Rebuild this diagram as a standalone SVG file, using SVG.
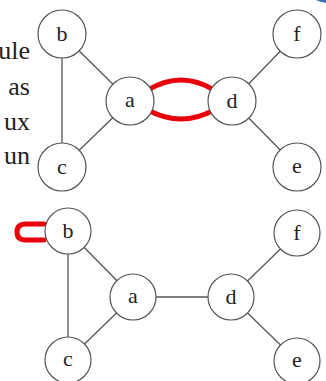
<svg xmlns="http://www.w3.org/2000/svg" width="326" height="381" viewBox="0 0 326 381">
  <style>
    .edge { stroke: #555; stroke-width: 1.3; fill: none; }
    .hl { stroke: #e8000b; stroke-width: 5; fill: none; stroke-linecap: round; }
    .node circle { fill: #fff; stroke: #555; stroke-width: 1.2; }
    .node text { font-family: "Liberation Serif", "DejaVu Serif", serif; font-size: 22px; fill: #222; text-anchor: middle; }
    .para { font-family: "Liberation Serif", "DejaVu Serif", serif; font-size: 26px; fill: #222; text-anchor: end; }
  </style>
  <rect width="326" height="381" fill="#fff"/>

  <!-- paragraph fragments on the left edge -->
  <g id="paragraph">
    <text class="para" x="30" y="59">ule</text>
    <text class="para" x="30" y="95">as</text>
    <text class="para" x="30" y="130">ux</text>
    <text class="para" x="30" y="164">un</text>
  </g>

  <!-- corner decoration -->
  <path d="M316,0 L326,0 L326,3 Q320,2 316,0 Z" fill="#3b6fb6"/>

  <!-- connectors -->
  <g id="connectors">
    <!-- upper graph -->
    <line class="edge" x1="62" y1="34" x2="62" y2="167"/>
    <line class="edge" x1="62" y1="34" x2="130" y2="101"/>
    <line class="edge" x1="62" y1="167" x2="130" y2="101"/>
    <line class="edge" x1="232" y1="101" x2="297" y2="34"/>
    <line class="edge" x1="232" y1="101" x2="297" y2="167"/>
    <path class="hl" d="M148,90 Q181,70 214,90"/>
    <path class="hl" d="M148,110 Q181,128 214,110"/>
    <!-- lower graph -->
    <line class="edge" x1="68" y1="231" x2="68" y2="360"/>
    <line class="edge" x1="68" y1="231" x2="133" y2="297"/>
    <line class="edge" x1="68" y1="360" x2="133" y2="297"/>
    <line class="edge" x1="133" y1="297" x2="231" y2="297"/>
    <line class="edge" x1="231" y1="297" x2="297" y2="233"/>
    <line class="edge" x1="231" y1="297" x2="297" y2="361"/>
    <path class="hl" d="M44,224 L26,224 Q17,224 17,232 Q17,240 26,240 L44,240"/>
  </g>

  <!-- upper graph nodes -->
  <g id="b1" class="node"><circle cx="62" cy="34" r="24"/><text x="62" y="41">b</text></g>
  <g id="c1" class="node"><circle cx="62" cy="167" r="24"/><text x="62" y="174">c</text></g>
  <g id="a1" class="node"><circle cx="130" cy="101" r="24"/><text x="130" y="107">a</text></g>
  <g id="d1" class="node"><circle cx="232" cy="101" r="24"/><text x="232" y="108">d</text></g>
  <g id="f1" class="node"><circle cx="297" cy="34" r="24"/><text x="297" y="41">f</text></g>
  <g id="e1" class="node"><circle cx="297" cy="167" r="24"/><text x="297" y="173">e</text></g>

  <!-- lower graph nodes -->
  <g id="b2" class="node"><circle cx="68" cy="231" r="23"/><text x="68" y="238">b</text></g>
  <g id="c2" class="node"><circle cx="68" cy="360" r="23"/><text x="68" y="366">c</text></g>
  <g id="a2" class="node"><circle cx="133" cy="297" r="23"/><text x="133" y="303">a</text></g>
  <g id="d2" class="node"><circle cx="231" cy="297" r="23"/><text x="231" y="304">d</text></g>
  <g id="f2" class="node"><circle cx="297" cy="233" r="23"/><text x="297" y="240">f</text></g>
  <g id="e2" class="node"><circle cx="297" cy="361" r="23"/><text x="297" y="367">e</text></g>
</svg>
